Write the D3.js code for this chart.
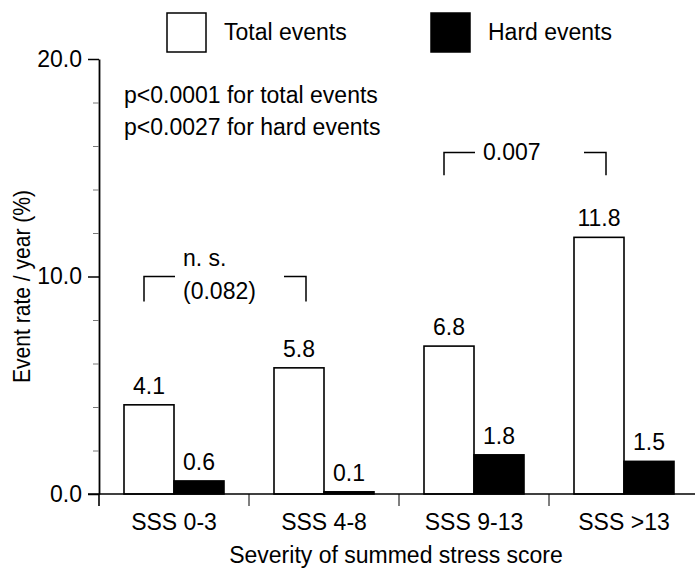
<!DOCTYPE html>
<html>
<head>
<meta charset="utf-8">
<script src="https://cdn.jsdelivr.net/npm/d3@7"></script>
<style>
    body { margin: 0; background: #fff; }
    svg { display: block; font-family: "Liberation Sans", Arial, sans-serif; }
</style>
</head>
<body>
<svg width="695" height="573"></svg>
<script>
// data
const categories = ['SSS 0-3', 'SSS 4-8', 'SSS 9-13', 'SSS >13']
const totalEvents = [4.1, 5.8, 6.8, 11.8]
const hardEvents = [0.6, 0.1, 1.8, 1.5]
const seriesNames = ['Total events', 'Hard events']
const yTicks = [0, 10, 20]
const yMinorTicks = [2, 4, 6, 8, 12, 14, 16, 18]
const pValues = ['p<0.0001 for total events', 'p<0.0027 for hard events']
const comparisons = [
    { from: 'SSS 0-3', to: 'SSS 4-8', y: 10, drop: 1.15, text: ['n. s.', '(0.082)'], dy: [-11, 22] },
    { from: 'SSS 9-13', to: 'SSS >13', y: 15.7, drop: 1.05, text: ['0.007'], dy: [7] }
]

//constants
const w = 695
const h = 573
const padLeft = 99
const padTop = 59
const axisY = 494
const fontSize = '23px'

const svg = d3.select('svg')

//scales
const x = d3.scaleBand()
    .domain(categories)
    .range([padLeft, padLeft + 150 * categories.length])
    .padding(0)
const xSub = d3.scaleBand()
    .domain(seriesNames)
    .range([0, x.bandwidth()])
    .paddingInner(0)
    .paddingOuter(0.5)
const y = d3.scaleLinear()
    .domain([0, 20])
    .range([axisY, padTop])

const rows = categories.map((c, i) => [
    { cat: c, s: seriesNames[0], v: totalEvents[i] },
    { cat: c, s: seriesNames[1], v: hardEvents[i] }
]).flat()

//bars
svg.append('g')
    .selectAll('rect')
    .data(rows)
    .enter()
    .append('rect')
    .attr('x', d => x(d.cat) + xSub(d.s))
    .attr('y', d => y(d.v))
    .attr('width', xSub.bandwidth())
    .attr('height', d => y(0) - y(d.v))
    .attr('fill', d => d.s === seriesNames[0] ? '#fff' : '#000')
    .attr('stroke', '#000')
    .attr('stroke-width', 1.6)

//value labels
svg.append('g')
    .selectAll('text')
    .data(rows)
    .enter()
    .append('text')
    .attr('x', d => x(d.cat) + xSub(d.s) + xSub.bandwidth() / 2)
    .attr('y', d => y(d.v) - 11)
    .attr('text-anchor', 'middle')
    .style('font-size', fontSize)
    .text(d => d.v.toFixed(1))

//y axis
svg.append('g')
    .attr('transform', 'translate(' + padLeft + ',0)')
    .style('font-size', fontSize)
    .style('font-family', '"Liberation Sans", Arial, sans-serif')
    .call(d3.axisLeft(y).tickValues(yTicks).tickFormat(d3.format('.1f')).tickSize(11).tickSizeOuter(0).tickPadding(6))
    .call(g => g.select('.domain').attr('stroke-width', 1.8))
    .call(g => g.selectAll('.tick line').attr('stroke-width', 1.5))
    .call(g => g.selectAll('.tick text').attr('fill', '#000'))

svg.append('g')
    .attr('transform', 'translate(' + padLeft + ',0)')
    .call(d3.axisLeft(y).tickValues(yMinorTicks).tickFormat('').tickSize(6).tickSizeOuter(0))
    .call(g => g.select('.domain').remove())
    .call(g => g.selectAll('.tick line').attr('stroke', '#777'))

//x axis
svg.append('line')
    .attr('x1', padLeft - 11)
    .attr('x2', w)
    .attr('y1', y(0))
    .attr('y2', y(0))
    .attr('stroke', '#000')
    .attr('stroke-width', 1.6)

svg.append('g')
    .selectAll('line')
    .data(categories)
    .enter()
    .append('line')
    .attr('x1', d => x(d))
    .attr('x2', d => x(d))
    .attr('y1', y(0))
    .attr('y2', y(0) + 12)
    .attr('stroke', '#000')
    .attr('stroke-width', (d, i) => i === 0 ? 1.6 : 1)

svg.append('g')
    .selectAll('text')
    .data(categories)
    .enter()
    .append('text')
    .attr('x', d => x(d) + x.bandwidth() / 2)
    .attr('y', 530)
    .attr('text-anchor', 'middle')
    .style('font-size', fontSize)
    .text(d => d)

//axis titles
svg.append('text')
    .attr('x', 396)
    .attr('y', 563)
    .attr('text-anchor', 'middle')
    .style('font-size', fontSize)
    .text('Severity of summed stress score')

svg.append('text')
    .attr('transform', 'translate(30,' + ((padTop + axisY) / 2 + 10) + ') rotate(-90)')
    .attr('text-anchor', 'middle')
    .attr('textLength', 193)
    .attr('lengthAdjust', 'spacingAndGlyphs')
    .style('font-size', '24px')
    .text('Event rate / year (%)')

//legend
const legend = svg.append('g')
    .selectAll('g')
    .data(seriesNames)
    .enter()
    .append('g')
    .attr('transform', (d, i) => 'translate(' + (167 + i * 264) + ',13)')
legend.append('rect')
    .attr('width', 39)
    .attr('height', 39)
    .attr('fill', (d, i) => i === 0 ? '#fff' : '#000')
    .attr('stroke', '#000')
    .attr('stroke-width', 1.5)
legend.append('text')
    .attr('x', 57)
    .attr('y', 27)
    .style('font-size', fontSize)
    .text(d => d)

//p values
svg.append('g')
    .selectAll('text')
    .data(pValues)
    .enter()
    .append('text')
    .attr('x', 124)
    .attr('y', (d, i) => 103 + i * 32)
    .style('font-size', fontSize)
    .text(d => d)

//comparison brackets
comparisons.forEach(c => {
    const x1 = x(c.from) + x.bandwidth() * 0.3
    const x2 = x(c.to) + x.bandwidth() * 0.38
    const yTop = y(c.y)
    const yEnd = y(c.y - c.drop)
    const g = svg.append('g')
        .attr('fill', 'none')
        .attr('stroke', '#000')
        .attr('stroke-width', 1.5)
    g.append('path').attr('d', `M${x1},${yEnd}V${yTop}H${x1 + 31}`)
    g.append('path').attr('d', `M${x2 - 22},${yTop}H${x2}V${yEnd}`)
    c.text.forEach((t, i) => {
        svg.append('text')
            .attr('x', x1 + 39)
            .attr('y', yTop + c.dy[i])
            .style('font-size', fontSize)
            .text(t)
    })
})
</script>
</body>
</html>
